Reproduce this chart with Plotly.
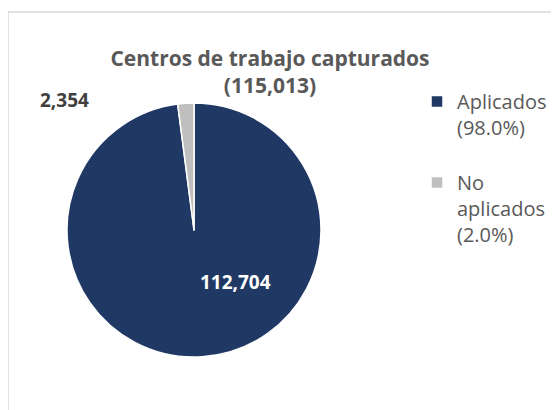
import plotly.graph_objects as go

categories = ["Aplicados", "No aplicados"]
values = [112704, 2354]
legend_labels = ["Aplicados<br>(98.0%)<br> ", "No<br>aplicados<br>(2.0%)"]
title_text = "Centros de trabajo capturados<br>(115,013)"
colors = ["#203864", "#BFBFBF"]

W, H = 559, 410
OFF = 8  # page body margin
cx, cy, r = 194 - OFF, 230 - OFF, 127


def px(x):
    return (x - OFF) / W


def py(y):
    return 1 - (y - OFF) / H


fig = go.Figure()
fig.add_trace(go.Pie(
    labels=legend_labels,
    values=values,
    sort=False,
    direction="clockwise",
    rotation=0,
    marker=dict(colors=colors, line=dict(color="white", width=1.5)),
    textinfo="none",
    hoverinfo="label+value",
    domain=dict(x=[(cx - r) / W, (cx + r) / W], y=[1 - (cy + r) / H, 1 - (cy - r) / H]),
    showlegend=True,
))

# data labels from the values
fig.add_annotation(x=px(235), y=py(282), xref="paper", yref="paper",
                   xanchor="center", yanchor="middle",
                   text=f"<b>{values[0]:,}</b>", showarrow=False,
                   font=dict(family="Open Sans", size=19, color="white"))
fig.add_annotation(x=px(64), y=py(100), xref="paper", yref="paper",
                   xanchor="center", yanchor="middle",
                   text=f"<b>{values[1]:,}</b>", showarrow=False,
                   font=dict(family="Open Sans", size=19, color="#404040"))

# chart border
fig.add_shape(type="rect", xref="paper", yref="paper",
              x0=px(8), y0=-0.2, x1=1.2, y1=py(12),
              line=dict(color="#D9D9D9", width=1.5), layer="below")

fig.update_layout(
    width=W, height=H,
    margin=dict(l=0, r=0, t=0, b=0),
    paper_bgcolor="white", plot_bgcolor="white",
    title=dict(text=f"<b>{title_text}</b>", x=px(270), xanchor="center",
               xref="paper", yref="paper", y=py(66), yanchor="top",
               font=dict(family="Open Sans", size=21, color="#595959")),
    legend=dict(x=px(417), y=py(82), xanchor="left", yanchor="top",
                valign="top", font=dict(family="Open Sans", size=20, color="#595959"),
                bgcolor="rgba(0,0,0,0)"),
)

fig.write_html("out.html")
